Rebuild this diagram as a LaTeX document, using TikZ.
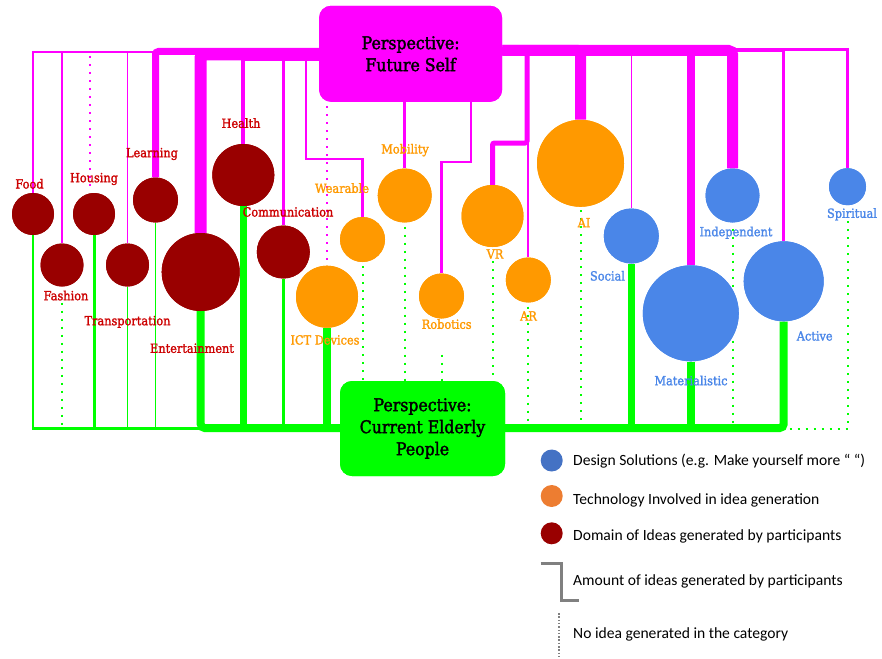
\documentclass[tikz,border=0pt]{standalone}
\usepackage{fontspec}
\newfontfamily\lab{DejaVu Serif}[FakeStretch=0.9,FakeBold=1.6]
\newfontfamily\boxf{DejaVu Serif}[FakeStretch=0.9,FakeBold=2]
\newfontfamily\leg{Carlito}
\definecolor{mg}{HTML}{FF00FF}
\definecolor{gr}{HTML}{00FF00}
\definecolor{domc}{HTML}{990000}
\definecolor{techc}{HTML}{FF9900}
\definecolor{desc}{HTML}{4A86E8}
\definecolor{domtxt}{HTML}{CC0000}
\definecolor{lgblue}{HTML}{4472C4}
\definecolor{lgorange}{HTML}{ED7D31}
\definecolor{lgred}{HTML}{990000}
\definecolor{lggray}{HTML}{808080}
\begin{document}
\begin{tikzpicture}[x=1pt,y=-1pt,
  dom/.style={circle,fill=domc,inner sep=0pt,minimum size=#1},
  tech/.style={circle,fill=techc,inner sep=0pt,minimum size=#1},
  des/.style={circle,fill=desc,inner sep=0pt,minimum size=#1},
  lbl/.style={font=\lab\fontsize{12.6}{14}\selectfont,inner sep=0pt,text height=9pt,text depth=0pt},
  dlab/.style={lbl,text=domtxt},
  tlab/.style={lbl,text=techc},
  blab/.style={lbl,text=desc},
  mgline/.style={draw=mg},
  grline/.style={draw=gr},
  mgdot/.style={draw=mg,line width=2pt,dash pattern=on 2pt off 6pt},
  grdot/.style={draw=gr,line width=2pt,dash pattern=on 2pt off 6pt},
  persp/.style={rounded corners=12pt,inner sep=0pt,align=center,font=\boxf\fontsize{17.5}{22}\selectfont,text=black},
  legtext/.style={font=\leg\fontsize{15.6}{17}\selectfont,anchor=west,inner sep=0pt,text height=10pt,text depth=0pt},
  legdot/.style={circle,inner sep=0pt,minimum size=22pt}
]
\useasboundingbox (0,0) rectangle (882,658);

% circles (positions)
\path
  (33,214) node[dom=42] (food) {}
  (62,265) node[dom=43] (fashion) {}
  (94,214) node[dom=42] (house) {}
  (127.5,265) node[dom=43] (trans) {}
  (155.5,200) node[dom=45] (learn) {}
  (243.3,175) node[dom=62] (health) {}
  (200.7,272) node[dom=78] (ent) {}
  (283.3,252) node[dom=53] (comm) {}
  (327,296.7) node[tech=62] (ict) {}
  (362.5,239.5) node[tech=45] (wear) {}
  (404.7,195.5) node[tech=54] (mob) {}
  (441.5,296) node[tech=45] (rob) {}
  (492.5,216) node[tech=62] (vr) {}
  (528.3,280) node[tech=45] (ar) {}
  (580.5,163.3) node[tech=87] (ai) {}
  (631.3,236) node[des=55] (social) {}
  (690.8,313.3) node[des=96] (mat) {}
  (732.5,195.5) node[des=54] (indep) {}
  (783.7,281.3) node[des=80] (active) {}
  (847.5,186.7) node[des=37] (spirit) {};

\node[persp,fill=mg,minimum width=183pt,minimum height=96pt] (fs) at (410.6,53.8) {};
\node[persp,fill=gr,minimum width=165pt,minimum height=95pt] (ce) at (422.5,428.5) {};

\coordinate (wbend) at (306,159);
\coordinate (rbend) at (471,162);
\coordinate (vrbend) at (527,143);

% ---------- magenta connectors ----------
\draw[mgline,line width=1.5pt] (learn.north |- 0,52) -| (food.north);
\draw[mgline,line width=1.5pt] (learn.north |- 0,52) -| (fashion.north);
\draw[mgline,line width=1.5pt] (learn.north |- 0,52) -| (trans.north);
\draw[mgdot] ([xshift=-4pt]house.north |- 0,56) -- ([xshift=-4pt,yshift=2pt]house.north);
\draw[mgline,line width=7pt,rounded corners=3pt] (fs.west |- 0,51.5) -| (learn.north);
\draw[mgline,line width=12pt,rounded corners=3pt] (fs.west |- 0,54.5) -| (ent.north);
\draw[mgline,line width=4pt] (fs.west |- 0,59) -| (health.north);
\draw[mgline,line width=3pt] (fs.west |- 0,59) -| (comm.north);
\draw[mgline,line width=2.5pt] (fs.west |- 0,59) -| (wbend) -| (wear.north);
\draw[mgdot] ([yshift=-4pt]fs.south -| ict.north) -- ([yshift=4pt]ict.north);
\draw[mgline,line width=3pt] (fs.south -| mob.north) -- (mob.north);
\draw[mgline,line width=2.5pt] (fs.south -| rbend) -- (rbend) -| (rob.north);
\draw[mgline,line width=5pt,rounded corners=2pt] (fs.east |- 0,51) -| (vrbend) -| (vr.north);
\draw[mgline,line width=2pt] (fs.east |- 0,51) -| (ar.north);
\draw[mgline,line width=11pt,rounded corners=3pt] (fs.east |- 0,50.5) -| (ai.north);
\draw[mgline,line width=1.5pt] (fs.east |- 0,51) -| (social.north);
\draw[mgline,line width=8pt] (fs.east |- 0,51) -| (mat.north);
\draw[mgline,line width=11pt,rounded corners=4pt] (fs.east |- 0,50.5) -| (indep.north);
\draw[mgline,line width=3.5pt] (fs.east |- 0,50) -| (active.north);
\draw[mgline,line width=3pt] (fs.east |- 0,50) -| (spirit.north);

% ---------- green connectors ----------
\draw[grline,line width=2.5pt] (food.south) |- (ent.south |- 0,428.5);
\draw[grline,line width=3pt] (house.south) -- (house.south |- 0,428.5);
\draw[grline,line width=1.5pt] (trans.south) -- (trans.south |- 0,428.5);
\draw[grline,line width=1.2pt] (learn.south) -- (learn.south |- 0,428.5);
\draw[grdot] ([yshift=-16pt]fashion.south) -- (fashion.south |- 0,425);
\draw[grline,line width=8pt,rounded corners=4pt] (ent.south) |- (active.south |- 0,428) -- (active.south);
\draw[grline,line width=6.5pt] (health.south) -- (health.south |- 0,428);
\draw[grline,line width=2.5pt] (comm.south) -- (comm.south |- 0,428);
\draw[grline,line width=7.5pt] (ict.south) -- (ict.south |- 0,428);
\draw[grline,line width=7pt] (social.south) -- (social.south |- 0,428);
\draw[grline,line width=7.5pt] (mat.south) -- (mat.south |- 0,428);
\draw[grdot] ([yshift=-4pt]wear.south) -- (wear.south |- ce.north);
\draw[grdot] ([yshift=-4pt]mob.south) -- (mob.south |- ce.north);
\draw[grdot] ([yshift=-36pt]rob.south) -- (rob.south |- ce.north);
\draw[grdot] ([yshift=-14pt]vr.south) -- (vr.south |- ce.north);
\draw[grdot] ([yshift=-4pt]ar.south) -- (ar.south |- 0,426);
\draw[grdot] ([yshift=-3pt]ai.south) -- (ai.south |- 0,426);
\draw[grdot] ([yshift=-6pt]indep.south) -- (indep.south |- 0,426);
\draw[grdot] ([yshift=-16pt]spirit.south) -- (spirit.south |- 0,426);
\draw[grdot] ([xshift=6pt]active.south |- 0,429) -- (spirit.south |- 0,429);

% redraw circles on top of the connectors
\foreach \n/\s/\c in {food/42/domc,fashion/43/domc,house/42/domc,trans/43/domc,learn/45/domc,health/62/domc,ent/78/domc,comm/53/domc,
  ict/62/techc,wear/45/techc,mob/54/techc,rob/45/techc,vr/62/techc,ar/45/techc,ai/87/techc,
  social/55/desc,mat/96/desc,indep/54/desc,active/80/desc,spirit/37/desc}
  \fill[\c] (\n.center) circle[radius=\s/2];

% ---------- labels ----------
\node[dlab] (lfood) at (29.5,184) {Food};
\node[dlab] (lhouse) at (94,177.7) {Housing};
\node[dlab] (llearn) at (152,152.7) {Learning};
\node[dlab] (lhealth) at (241,123.3) {Health};
\node[dlab] (lcomm) at (288,212) {Communication};
\node[dlab] (lfashion) at (66,295.7) {Fashion};
\node[dlab] (ltrans) at (127.5,320.7) {Transportation};
\node[dlab] (lent) at (192,348.3) {Entertainment};
\node[tlab] (lwear) at (342,188.3) {Wearable};
\node[tlab] (lmob) at (405,149) {Mobility};
\node[tlab] (lict) at (325,340) {ICT Devices};
\node[tlab] (lrob) at (446.7,324.3) {Robotics};
\node[tlab] (lvr) at (495,254) {VR};
\node[tlab] (lar) at (528.5,316) {AR};
\node[tlab] (lai) at (584,222.7) {AI};
\node[blab] (lsocial) at (607.5,276) {Social};
\node[blab] (lindep) at (736,231.7) {Independent};
\node[blab] (lactive) at (814.7,336) {Active};
\node[blab] (lmat) at (691,380.7) {Materialistic};
\node[blab] (lspirit) at (852,213.3) {Spiritual};

% ---------- perspective boxes ----------
\node[persp,fill=mg,minimum width=183pt,minimum height=96pt] (fsb) at (fs) {Perspective:\\Future Self};
\node[persp,fill=gr,minimum width=165pt,minimum height=95pt] (ceb) at (ce) {Perspective:\\Current Elderly\\People};

% ---------- legend ----------
\node[legdot,fill=lgblue] (lg1) at (551.7,460.5) {};
\node[legtext] (lg1t) at (573,460) {Design Solutions (e.g. Make yourself more “ “)};
\node[legdot,fill=lgorange] (lg2) at (551.7,496) {};
\node[legtext] (lg2t) at (573,499) {Technology Involved in idea generation};
\node[legdot,fill=lgred] (lg3) at (551.7,533.3) {};
\node[legtext] (lg3t) at (573,535) {Domain of Ideas generated by participants};
\coordinate (br1) at (540.7,563.3);
\coordinate (br2) at (561.7,563.3);
\coordinate (br3) at (561.7,600.7);
\coordinate (br4) at (579.3,600.7);
\draw[lggray,line width=3pt] (br1) -- (br2) -- (br3) -- (br4);
\node[legtext] (lg4t) at (573,580.7) {Amount of ideas generated by participants};
\coordinate (gd1) at (559.3,613);
\coordinate (gd2) at (559.3,658);
\draw[lggray,line width=2pt,dash pattern=on 1.5pt off 1.8pt] (gd1) -- (gd2);
\node[legtext] (lg5t) at (573,633.3) {No idea generated in the category};
\end{tikzpicture}
\end{document}
